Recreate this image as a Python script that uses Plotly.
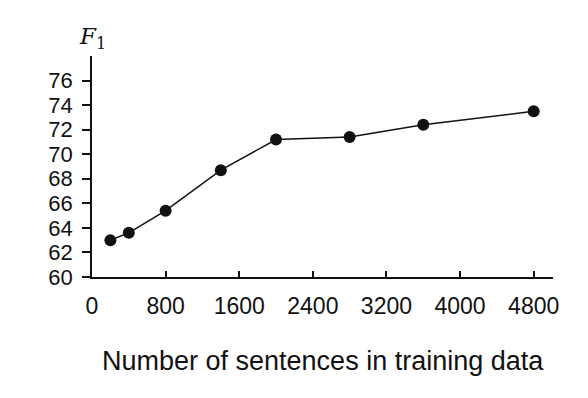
import plotly.graph_objects as go

# ── data ─────────────────────────────────────────────────────────────
sentences = [200, 400, 800, 1400, 2000, 2800, 3600, 4800]
f1_scores = [63.0, 63.6, 65.4, 68.7, 71.2, 71.4, 72.4, 73.5]
x_ticks = [0, 800, 1600, 2400, 3200, 4000, 4800]
y_ticks = [60, 62, 64, 66, 68, 70, 72, 74, 76]

FONT = "Liberation Sans, Arial, Helvetica, sans-serif"
INK = "#111111"

fig = go.Figure(
    go.Scatter(
        x=sentences,
        y=f1_scores,
        mode="lines+markers",
        line={"color": INK, "width": 1.5},
        marker={"color": INK, "size": 12},
        showlegend=False,
    )
)

# margins allow for the page's 8px body offset
fig.update_layout(
    width=588,
    height=398,
    margin={"l": 84, "r": 43, "t": 48, "b": 129},
    paper_bgcolor="white",
    plot_bgcolor="white",
    font={"family": FONT, "size": 23, "color": INK},
    xaxis={
        "range": [0, 5010],
        "tickvals": x_ticks,
        "tickfont": {"size": 23},
        "ticks": "inside",
        "ticklen": 6,
        "tickwidth": 1.5,
        "tickcolor": INK,
        "ticklabelstandoff": 7,
        "showline": True,
        "linecolor": INK,
        "linewidth": 2,
        "showgrid": False,
        "zeroline": False,
        "automargin": False,
    },
    yaxis={
        "range": [60, 78],
        "tickvals": y_ticks,
        "tickfont": {"size": 22},
        "ticks": "outside",
        "ticklen": 8,
        "tickwidth": 1.5,
        "tickcolor": INK,
        "ticklabelstandoff": 5,
        "showline": True,
        "linecolor": INK,
        "linewidth": 1.5,
        "showgrid": False,
        "zeroline": False,
        "automargin": False,
    },
)

# x-axis title
fig.add_annotation(
    text="Number of sentences in training data",
    xref="paper",
    yref="paper",
    x=0.5,
    y=0,
    yshift=-84,
    xanchor="center",
    yanchor="middle",
    showarrow=False,
    font={"family": FONT, "size": 27, "color": INK},
)

# y-axis label F1 above the axis
fig.add_annotation(
    text="<i>F</i><sub>1</sub>",
    xref="paper",
    yref="paper",
    x=0,
    y=1,
    xanchor="center",
    yanchor="bottom",
    yshift=1,
    showarrow=False,
    font={"family": "DejaVu Serif, Liberation Serif, serif", "size": 23, "color": INK},
)

fig.write_html("out.html")
